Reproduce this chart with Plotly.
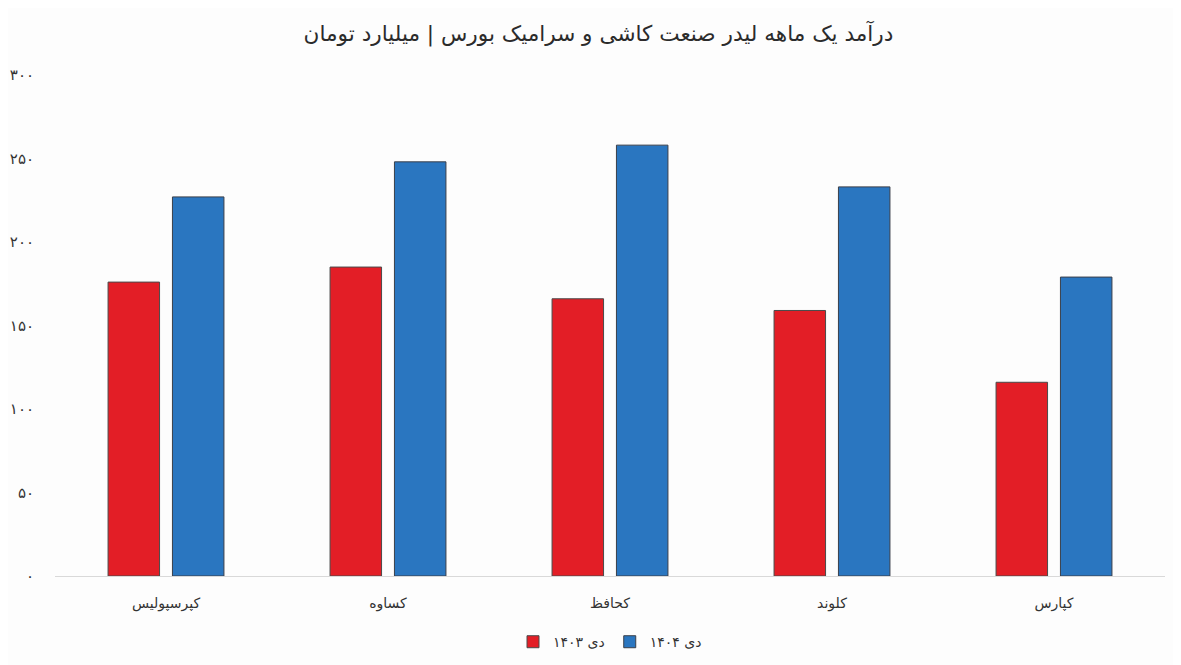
import plotly.graph_objects as go

categories = ["کپرسپولیس", "کساوه", "کحافظ", "کلوند", "کپارس"]
series_names = ["دی ۱۴۰۳", "دی ۱۴۰۴"]
values_1403 = [176, 185, 166, 159, 116]
values_1404 = [227, 248, 258, 233, 179]
tick_values = [0, 50, 100, 150, 200, 250, 300]
tick_labels = ["۰", "۵۰", "۱۰۰", "۱۵۰", "۲۰۰", "۲۵۰", "۳۰۰"]
title_text = "درآمد یک ماهه لیدر صنعت کاشی و سرامیک بورس | میلیارد تومان"

FONT = "DejaVu Sans"

fig = go.Figure()
fig.add_trace(go.Bar(
    x=categories, y=values_1403, name=series_names[0],
    marker=dict(color="#e31e26", line=dict(color="#4a4a4a", width=1)),
))
fig.add_trace(go.Bar(
    x=categories, y=values_1404, name=series_names[1],
    marker=dict(color="#2a76c0", line=dict(color="#3a3f4a", width=1)),
))

fig.update_layout(
    width=1181, height=665,
    paper_bgcolor="#fdfdfd", plot_bgcolor="#fdfdfd",
    margin=dict(l=47, r=24, t=67, b=97),
    barmode="group", bargap=0.42, bargroupgap=0.2,
    title=dict(text=title_text, x=0.5, xanchor="center", y=0.962, yanchor="middle",
               font=dict(family=FONT, size=21.6, color="#2b2b2b")),
    font=dict(family=FONT, color="#333333"),
    showlegend=True,
    legend=dict(orientation="h", x=0.5, xanchor="center", y=-0.132, yanchor="middle",
                font=dict(family=FONT, size=14, color="#333333"),
                itemwidth=30, bgcolor="rgba(0,0,0,0)"),
    xaxis=dict(showgrid=False, showline=True, linecolor="#d9d9d9", linewidth=1,
               ticks="", tickfont=dict(family=FONT, size=14, color="#333333"),
               ticklabelstandoff=14, automargin=False),
    yaxis=dict(range=[0, 300], tickvals=tick_values, ticktext=tick_labels,
               showgrid=False, zeroline=False, showline=False, ticks="",
               tickfont=dict(family=FONT, size=15, color="#333333"),
               ticklabelstandoff=20, automargin=False),
)

fig.write_html("out.html")
